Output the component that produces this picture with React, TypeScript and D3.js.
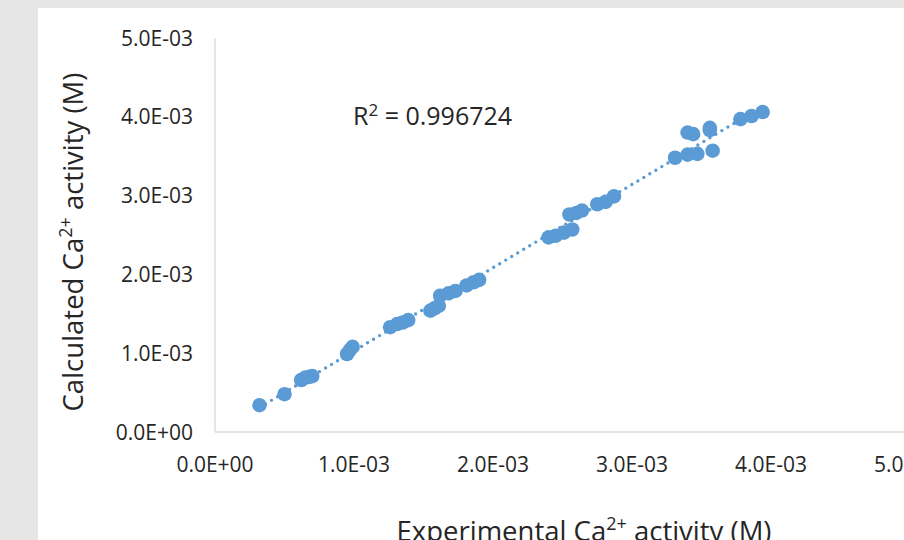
import { useEffect, useRef } from "react"
import * as d3 from "d3"

// experimental vs calculated Ca2+ activity, in units of 1e-3 M
const expActivity = [
  0.32, 0.5, 0.62, 0.65, 0.68, 0.7, 0.95, 0.97, 0.99, 1.26, 1.31, 1.35, 1.39, 1.55, 1.58, 1.61,
  1.62, 1.68, 1.73, 1.81, 1.86, 1.9, 2.4, 2.45, 2.51, 2.57, 2.55, 2.6, 2.64, 2.75, 2.81, 2.87,
  3.31, 3.4, 3.47, 3.4, 3.44, 3.56, 3.56, 3.58, 3.78, 3.86, 3.94,
]
const calcActivity = [
  0.34, 0.48, 0.66, 0.69, 0.7, 0.71, 0.99, 1.04, 1.08, 1.33, 1.37, 1.39, 1.42, 1.54, 1.57, 1.6,
  1.73, 1.76, 1.79, 1.86, 1.9, 1.93, 2.47, 2.49, 2.53, 2.57, 2.76, 2.78, 2.81, 2.89, 2.92, 2.99,
  3.48, 3.52, 3.53, 3.8, 3.78, 3.83, 3.86, 3.57, 3.97, 4.01, 4.06,
]
const ticks = [0, 1e-3, 2e-3, 3e-3, 4e-3, 5e-3]
const rSquared = "0.996724"

const W = 904
const H = 540
const font = "'Open Sans', sans-serif"
const textColor = "#262626"
const blue = "#5b9bd5"

const fmt = (v: number) => {
  const [m, e] = v.toExponential(1).toUpperCase().split("E")
  const sign = e.startsWith("-") ? "-" : "+"
  const digits = e.replace(/[+-]/, "").padStart(2, "0")
  return `${m}E${sign}${digits}`
}

export default function App() {
  const svgRef = useRef<SVGSVGElement>(null)

  useEffect(() => {
    if (!svgRef.current) return
    const svg = d3.select(svgRef.current)
    svg.selectAll("*").remove()

    const data = expActivity.map((x, i) => ({ x: x * 1e-3, y: calcActivity[i] * 1e-3 }))

    const x = d3.scaleLinear().domain([0, 5e-3]).range([215, 910])
    const y = d3.scaleLinear().domain([0, 5e-3]).range([432, 38])

    // background
    svg.append("rect").attr("width", W).attr("height", H).attr("fill", "#e6e6e6")
    svg.append("rect").attr("x", 38).attr("y", 8).attr("width", W - 38).attr("height", H - 8).attr("fill", "#ffffff")

    // axes lines
    svg.append("line")
      .attr("x1", x(0)).attr("x2", W).attr("y1", y(0)).attr("y2", y(0))
      .attr("stroke", "#d9d9d9").attr("stroke-width", 1.3)
    svg.append("line")
      .attr("x1", x(0)).attr("x2", x(0)).attr("y1", y(0)).attr("y2", y(5e-3))
      .attr("stroke", "#d9d9d9").attr("stroke-width", 1.3)

    // tick labels
    svg.append("g").selectAll("text").data(ticks).enter().append("text")
      .attr("x", 193).attr("y", (d) => y(d)).attr("dy", "0.36em")
      .attr("text-anchor", "end")
      .style("font-family", font).style("font-size", "21px").attr("fill", textColor)
      .text((d) => fmt(d))
    svg.append("g").selectAll("text").data(ticks).enter().append("text")
      .attr("x", (d) => x(d)).attr("y", 472)
      .attr("text-anchor", "middle")
      .style("font-family", font).style("font-size", "21px").attr("fill", textColor)
      .text((d) => fmt(d))

    // linear trendline (least squares)
    const mx = d3.mean(data, (d) => d.x) || 0
    const my = d3.mean(data, (d) => d.y) || 0
    const sxy = d3.sum(data, (d) => (d.x - mx) * (d.y - my))
    const sxx = d3.sum(data, (d) => (d.x - mx) ** 2)
    const slope = sxy / sxx
    const icpt = my - slope * mx
    const [x0, x1] = d3.extent(data, (d) => d.x) as [number, number]

    // points
    svg.append("g").selectAll("circle").data(data).enter().append("circle")
      .attr("cx", (d) => x(d.x)).attr("cy", (d) => y(d.y)).attr("r", 7.3)
      .attr("fill", blue)

    svg.append("line")
      .attr("x1", x(x0)).attr("y1", y(icpt + slope * x0))
      .attr("x2", x(x1)).attr("y2", y(icpt + slope * x1))
      .attr("stroke", blue).attr("stroke-width", 3.4)
      .attr("stroke-linecap", "round").attr("stroke-dasharray", "0 7")

    // R2 label
    const r2 = svg.append("text").attr("x", 353).attr("y", 125)
      .style("font-family", font).style("font-size", "25px").attr("fill", textColor)
    r2.append("tspan").text("R")
    r2.append("tspan").style("font-size", "17px").attr("dy", -9).text("2")
    r2.append("tspan").attr("dy", 9).text(` = ${rSquared}`)

    // axis titles
    const title = (sel: d3.Selection<SVGTextElement, unknown, null, undefined>, before: string) => {
      sel.append("tspan").text(`${before} Ca`)
      sel.append("tspan").style("font-size", "18px").attr("dy", -11).text("2+")
      sel.append("tspan").attr("dy", 11).text(" activity (M)")
    }
    const xt = svg.append("text").attr("x", 584).attr("y", 541).attr("text-anchor", "middle")
      .style("font-family", font).style("font-size", "27.5px").attr("fill", textColor)
    title(xt, "Experimental")
    const yt = svg.append("text")
      .attr("transform", `translate(83,242) rotate(-90)`).attr("text-anchor", "middle")
      .style("font-family", font).style("font-size", "27.5px").attr("fill", textColor)
    title(yt, "Calculated")
  }, [])

  return (
    <svg
      ref={svgRef}
      width={W}
      height={H}
      style={{ position: "absolute", left: 0, top: 0, display: "block" }}
    />
  )
}
